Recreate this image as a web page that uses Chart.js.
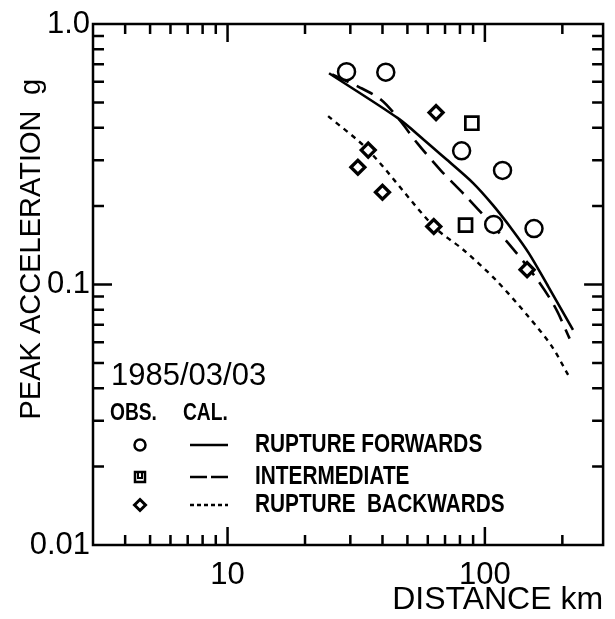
<!DOCTYPE html>
<html>
<head>
<meta charset="utf-8">
<script src="https://cdn.jsdelivr.net/npm/chart.js@4.4.1/dist/chart.umd.min.js"></script>
<style>
  html, body { margin: 0; padding: 0; background: #fff; overflow: hidden; }
</style>
</head>
<body>
<canvas id="accelChart" width="615" height="619"></canvas>
<script>
// peak acceleration (g) against distance (km)
const obsForwardX = [29.0, 41.2, 81.2, 117.1, 108.2, 155.2];
const obsForwardY = [0.656, 0.653, 0.326, 0.274, 0.170, 0.164];
const obsInterX = [89.0, 84.1];
const obsInterY = [0.416, 0.169];
const obsBackX = [64.6, 35.2, 32.1, 40.0, 63.3, 145.9];
const obsBackY = [0.457, 0.328, 0.282, 0.226, 0.167, 0.114];

const calForwardX = [24.8, 45.9, 58.0, 71.2, 90.0, 107.3, 127.9, 148.1, 176.6, 220.0];
const calForwardY = [0.647, 0.435, 0.359, 0.301, 0.245, 0.202, 0.162, 0.132, 0.098, 0.067];
const calInterX = [25.5, 32.3, 39.6, 46.6, 54.7, 67.2, 84.8, 104.2, 127.9, 157.0, 187.1, 213.5];
const calInterY = [0.640, 0.574, 0.511, 0.428, 0.348, 0.275, 0.217, 0.174, 0.138, 0.107, 0.082, 0.062];
const calBackX = [24.6, 35.2, 63.3, 82.4, 110.4, 148.1, 181.8, 210.6];
const calBackY = [0.443, 0.328, 0.167, 0.136, 0.104, 0.075, 0.058, 0.045];

// axis ticks
const xTickLabels = [10, 100];
const xMinorTicks = [4, 5, 6, 7, 8, 9, 20, 30, 40, 50, 60, 70, 80, 90, 200];
const yTickLabels = [0.01, 0.1, 1];
const yMinorTicks = [0.02, 0.03, 0.04, 0.05, 0.06, 0.07, 0.08, 0.09,
                     0.2, 0.3, 0.4, 0.5, 0.6, 0.7, 0.8, 0.9];

const legendRows = ["RUPTURE FORWARDS", "INTERMEDIATE", "RUPTURE  BACKWARDS"];

const FONT = "'Liberation Sans', Arial, sans-serif";
const INK = "#000";

const pts = (xs, ys) => xs.map((x, i) => ({ x, y: ys[i] }));

// box with inward ticks on all four sides
const frameTicks = {
  id: "frameTicks",
  afterDraw(chart) {
    const { ctx, chartArea: a, scales: { x, y } } = chart;
    ctx.save();
    ctx.strokeStyle = INK;
    ctx.lineWidth = 2.5;
    ctx.strokeRect(a.left, a.top, a.right - a.left, a.bottom - a.top);
    ctx.beginPath();
    const xt = (v, len) => {
      const px = x.getPixelForValue(v);
      ctx.moveTo(px, a.bottom); ctx.lineTo(px, a.bottom - len);
      ctx.moveTo(px, a.top); ctx.lineTo(px, a.top + len);
    };
    const yt = (v, len) => {
      const py = y.getPixelForValue(v);
      ctx.moveTo(a.left, py); ctx.lineTo(a.left + len, py);
      ctx.moveTo(a.right, py); ctx.lineTo(a.right - len, py);
    };
    xMinorTicks.forEach((v) => xt(v, 10));
    xTickLabels.forEach((v) => xt(v, 18));
    yMinorTicks.forEach((v) => yt(v, 11));
    yt(0.1, 19);
    ctx.stroke();
    ctx.restore();
  },
};

// rotated y title, event date and the OBS./CAL. key
const annotations = {
  id: "annotations",
  afterDraw(chart) {
    const { ctx } = chart;
    ctx.save();
    ctx.fillStyle = INK;
    ctx.strokeStyle = INK;

    ctx.font = `29px ${FONT}`;
    ctx.textBaseline = "alphabetic";
    ctx.textAlign = "center";
    ctx.save();
    ctx.translate(40, 265);
    ctx.rotate(-Math.PI / 2);
    ctx.fillText("PEAK ACCELERATION", 0, 0);
    ctx.restore();
    ctx.save();
    ctx.translate(40, 87);
    ctx.rotate(-Math.PI / 2);
    ctx.fillText("g", 0, 0);
    ctx.restore();

    ctx.textAlign = "left";
    ctx.textBaseline = "middle";
    ctx.font = `31px ${FONT}`;
    ctx.fillText("1985/03/03", 111, 376);

    const squeezed = (text, x, yy) => {
      ctx.save();
      ctx.translate(x, yy);
      ctx.scale(0.8, 1);
      ctx.fillText(text, 0, 0);
      ctx.restore();
    };
    ctx.font = `bold 24px ${FONT}`;
    squeezed("OBS.", 110, 413);
    squeezed("CAL.", 183, 413);

    const rowY = [445, 477, 505];
    ctx.font = `bold 26px ${FONT}`;
    legendRows.forEach((t, i) => squeezed(t, 255, rowY[i]));

    // key symbols
    ctx.lineWidth = 2.5;
    ctx.beginPath();
    ctx.arc(140, rowY[0], 5.5, 0, Math.PI * 2);
    ctx.stroke();
    ctx.strokeRect(135, rowY[1] - 5, 10, 10);
    ctx.lineWidth = 2;
    ctx.beginPath();
    ctx.moveTo(138, rowY[1] - 4);
    ctx.lineTo(138, rowY[1] + 1);
    ctx.lineTo(142, rowY[1] + 1);
    ctx.lineTo(142, rowY[1] - 4);
    ctx.stroke();
    ctx.lineWidth = 3;
    ctx.beginPath();
    ctx.moveTo(140, rowY[2] - 5.5);
    ctx.lineTo(145.5, rowY[2]);
    ctx.lineTo(140, rowY[2] + 5.5);
    ctx.lineTo(134.5, rowY[2]);
    ctx.closePath();
    ctx.stroke();

    ctx.lineWidth = 2.5;
    const sample = (yy, dash) => {
      ctx.setLineDash(dash);
      ctx.beginPath();
      ctx.moveTo(190, yy);
      ctx.lineTo(228, yy);
      ctx.stroke();
    };
    sample(rowY[0], []);
    sample(rowY[1], [17, 4]);
    sample(rowY[2], [4, 3]);
    ctx.restore();
  },
};

const markerBase = {
  showLine: false,
  borderColor: INK,
  backgroundColor: "#fff",
  borderWidth: 2.5,
  order: 0,
};
const lineBase = {
  showLine: true,
  pointRadius: 0,
  borderColor: INK,
  borderWidth: 2.6,
  tension: 0.3,
  fill: false,
  order: 1,
};

new Chart(document.getElementById("accelChart"), {
  type: "scatter",
  data: {
    datasets: [
      { ...markerBase, label: "Obs. rupture forwards", data: pts(obsForwardX, obsForwardY), pointStyle: "circle", pointRadius: 8.5 },
      { ...markerBase, label: "Obs. intermediate", data: pts(obsInterX, obsInterY), pointStyle: "rect", pointRadius: 9.2, borderWidth: 2.7 },
      { ...markerBase, label: "Obs. rupture backwards", data: pts(obsBackX, obsBackY), pointStyle: "rectRot", pointRadius: 7, borderWidth: 3.3 },
      { ...lineBase, label: "Cal. rupture forwards", data: pts(calForwardX, calForwardY) },
      { ...lineBase, label: "Cal. intermediate", data: pts(calInterX, calInterY), borderDash: [18, 9] },
      { ...lineBase, label: "Cal. rupture backwards", data: pts(calBackX, calBackY), borderDash: [5, 5], borderWidth: 2.4 },
    ],
  },
  options: {
    responsive: false,
    animation: false,
    events: [],
    layout: { padding: { top: 24, right: 3, left: 0, bottom: 0 } },
    plugins: { legend: { display: false }, tooltip: { enabled: false } },
    scales: {
      x: {
        type: "logarithmic",
        min: 3,
        max: 288,
        grid: { display: false, drawTicks: false },
        border: { display: false },
        afterBuildTicks: (s) => { s.ticks = xTickLabels.map((value) => ({ value })); },
        afterFit: (s) => { s.height = 74; },
        ticks: {
          color: INK,
          font: { family: FONT, size: 31 },
          padding: 12,
          maxRotation: 0,
          autoSkip: false,
          callback: (v) => String(v),
        },
        title: {
          display: true,
          text: "DISTANCE km",
          align: "end",
          color: INK,
          font: { family: FONT, size: 32 },
          padding: { top: 0, bottom: 0 },
        },
      },
      y: {
        type: "logarithmic",
        min: 0.01,
        max: 1,
        grid: { display: false, drawTicks: false },
        border: { display: false },
        afterBuildTicks: (s) => { s.ticks = yTickLabels.map((value) => ({ value })); },
        afterFit: (s) => { s.width = 93; },
        ticks: {
          color: INK,
          font: { family: FONT, size: 31 },
          padding: 3,
          autoSkip: false,
          callback: (v) => (v === 1 ? "1.0" : String(v)),
        },
      },
    },
  },
  plugins: [frameTicks, annotations],
});
</script>
</body>
</html>
